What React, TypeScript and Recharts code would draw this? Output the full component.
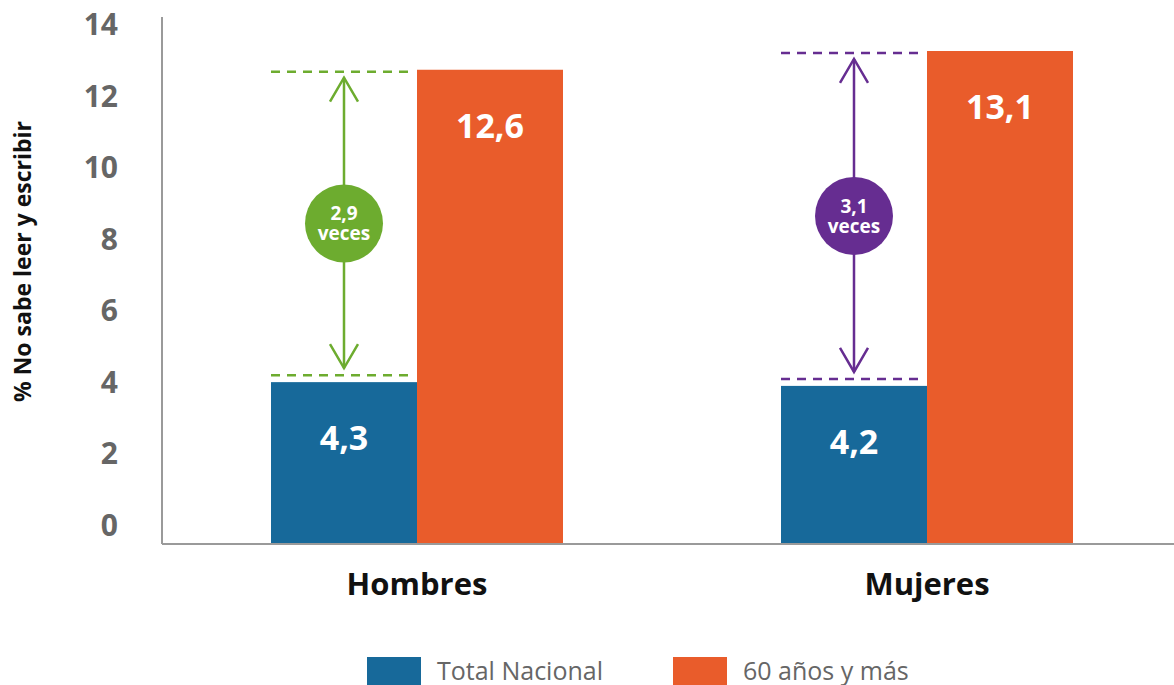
import { BarChart, Bar, XAxis, YAxis, Legend, LabelList } from "recharts"

const categories = ["Hombres", "Mujeres"]
const totalNacional = [4.3, 4.2]
const mayores60 = [12.6, 13.1]
const yTicks = [0, 2, 4, 6, 8, 10, 12, 14]
const seriesNames = ["Total Nacional", "60 años y más"]
const ratioColors = ["#6DAC2F", "#662D91"]

const BLUE = "#17699A"
const ORANGE = "#E95C2B"
const AXIS = "#9a9a9a"
const FONT = "'Open Sans', sans-serif"

const data = categories.map((c, i) => ({ name: c, total: totalNacional[i], mayores: mayores60[i] }))

const fmt = (v: number) => v.toFixed(1).replace(".", ",")

// blue bar + the "x veces" comparison arrow drawn over its column
function BlueShape(props: any) {
  const { x, y, width, height, payload, index } = props
  const unit = height / payload.total
  const base = y + height
  const topY = base - payload.mayores * unit + 2
  const lowY = y - 7
  const cx = x + width / 2
  const color = ratioColors[index]
  const midY = (topY + lowY) / 2
  const t1 = topY + 6
  const t2 = lowY - 7
  const head = 24
  const wing = 14
  const dash = { stroke: color, strokeWidth: 2.5, strokeDasharray: "9 7" }
  return (
    <g>
      <rect x={x} y={y} width={width} height={height} fill={BLUE} />
      <line x1={x} x2={x + width - 3} y1={topY} y2={topY} {...dash} />
      <line x1={x} x2={x + width - 3} y1={lowY} y2={lowY} {...dash} />
      <line x1={cx} x2={cx} y1={t1} y2={t2} stroke={color} strokeWidth={2.5} />
      <polyline
        points={`${cx - wing},${t1 + head} ${cx},${t1} ${cx + wing},${t1 + head}`}
        fill="none"
        stroke={color}
        strokeWidth={2.5}
      />
      <polyline
        points={`${cx - wing},${t2 - head} ${cx},${t2} ${cx + wing},${t2 - head}`}
        fill="none"
        stroke={color}
        strokeWidth={2.5}
      />
      <circle cx={cx} cy={midY} r={39} fill={color} />
      <text x={cx} y={midY - 10} textAnchor="middle" dominantBaseline="central" fill="#fff" fontSize={19} fontWeight={700} fontFamily={FONT}>
        {fmt(payload.mayores / payload.total)}
      </text>
      <text x={cx} y={midY + 10} textAnchor="middle" dominantBaseline="central" fill="#fff" fontSize={19} fontWeight={700} fontFamily={FONT}>
        veces
      </text>
    </g>
  )
}

const renderValue = (props: any) => {
  const { x, y, width, value } = props
  return (
    <text x={x + width / 2} y={y + 55} textAnchor="middle" dominantBaseline="central" fill="#fff" fontSize={34} fontWeight={700} fontFamily={FONT}>
      {fmt(value)}
    </text>
  )
}

const YTick = (props: any) => {
  const { x, y, payload } = props
  const v = payload.value
  // labels in the original sit slightly off the gridline positions
  const dy = -20 + 1.92 * v
  return (
    <text x={x} y={y + dy} textAnchor="end" dominantBaseline="central" fill="#666" fontSize={30} fontWeight={700} fontFamily={FONT}>
      {v}
    </text>
  )
}

const XTick = (props: any) => {
  const { x, y, payload } = props
  return (
    <text x={x} y={y + 37} textAnchor="middle" dominantBaseline="central" fill="#111" fontSize={31} fontWeight={700} fontFamily={FONT}>
      {payload.value}
    </text>
  )
}

const renderYLabel = (props: any) => {
  const vb = props.viewBox
  const cx = 22
  const cy = vb.y + vb.height / 2 - 19
  return (
    <text
      x={cx}
      y={cy}
      transform={`rotate(-90, ${cx}, ${cy})`}
      textAnchor="middle"
      dominantBaseline="central"
      fill="#111"
      fontSize={23}
      fontWeight={700}
      fontFamily={FONT}
    >
      % No sabe leer y escribir
    </text>
  )
}

const renderLegend = () => (
  <div style={{ display: "flex", alignItems: "flex-start", marginLeft: 367, paddingTop: 8, fontFamily: FONT }}>
    {seriesNames.map((n, i) => (
      <div key={n} style={{ display: "flex", alignItems: "flex-start", marginRight: i === 0 ? 70 : 0 }}>
        <span style={{ width: 54, height: 28, background: i === 0 ? BLUE : ORANGE, display: "inline-block", marginRight: 16 }} />
        <span style={{ fontSize: 25, lineHeight: "26px", color: "#666" }}>{n}</span>
      </div>
    ))}
  </div>
)

export default function App() {
  return (
    <div style={{ position: "absolute", left: 0, top: 0, width: 1174, height: 685, overflow: "hidden", background: "#fff", fontFamily: FONT }}>
      <BarChart width={1182} height={685} data={data} margin={{ top: 17, right: 0, left: 0, bottom: 0 }} barGap={0}>
        <XAxis dataKey="name" axisLine={{ stroke: AXIS, strokeWidth: 2 }} tickLine={false} tickSize={0} height={105} tick={<XTick />} />
        <YAxis
          domain={[0, 14]}
          ticks={yTicks}
          axisLine={{ stroke: AXIS, strokeWidth: 2 }}
          tickLine={false}
          tickSize={0}
          tickMargin={44}
          width={162}
          tick={<YTick />}
          label={renderYLabel}
        />
        <Legend verticalAlign="bottom" height={36} content={renderLegend} wrapperStyle={{ left: 0, width: 1182 }} />
        <Bar dataKey="total" name={seriesNames[0]} fill={BLUE} barSize={146} shape={<BlueShape />} isAnimationActive={false}>
          <LabelList dataKey="total" content={renderValue} />
        </Bar>
        <Bar dataKey="mayores" name={seriesNames[1]} fill={ORANGE} barSize={146} isAnimationActive={false}>
          <LabelList dataKey="mayores" content={renderValue} />
        </Bar>
      </BarChart>
    </div>
  )
}
